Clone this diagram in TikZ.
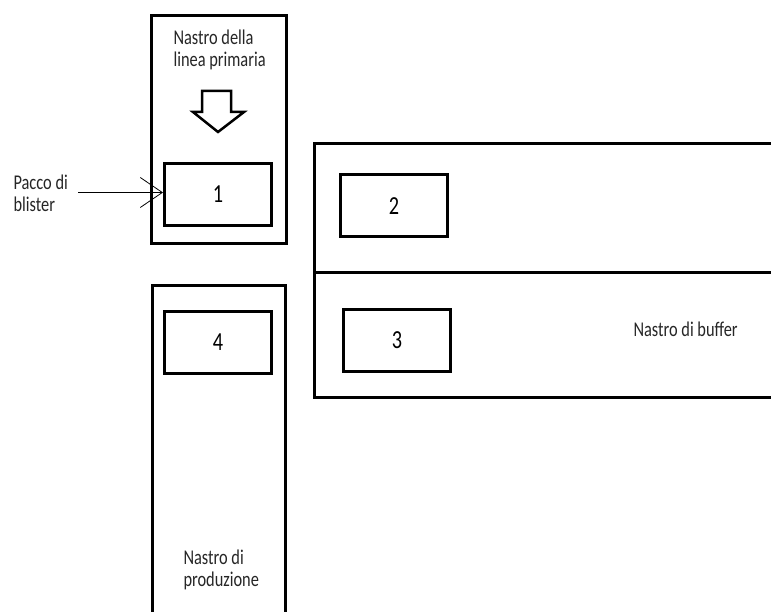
\documentclass[tikz,border=0pt]{standalone}
\usepackage{fontspec}
\setmainfont{Carlito}
\usepackage{graphicx}
\usetikzlibrary{arrows.meta}

% squeezed text, as in the sketch
\newcommand{\squash}[1]{\scalebox{0.78}[1]{#1}}

\tikzset{
    numbox/.style={draw, line width=3pt, minimum width=107pt, minimum height=62pt, inner sep=0pt, font=\fontsize{26}{26}\selectfont},
    beltlabel/.style={inner sep=0pt, align=left, anchor=base west, text=black!85, font=\fontsize{21}{22}\selectfont}
}

\begin{document}
\begin{tikzpicture}[x=1pt, y=-1pt, line width=3pt]
    \useasboundingbox (0, 0) rectangle (771, 612);
    \clip (0, 0) rectangle (771, 612);

    % draw belts
    \draw (151.5, 15.5) rectangle (286.5, 243.5);
    \draw (314.5, 143.5) rectangle (790, 397.5);
    \draw (314.5, 273) -- (790, 273);
    \draw (152.5, 630) -- (152.5, 285.5) -- (285.5, 285.5) -- (285.5, 630);

    % draw hollow arrow
    \draw[line width=2.5pt, line join=miter] (202, 91) -- (231, 91) -- (231, 112) -- (244, 112) -- (218, 132) -- (193, 112) -- (202, 112) -- cycle;

    % draw stations
    \node[numbox] (b1) at (218, 194.5) {\squash{1}};
    \node[numbox] (b2) at (394, 206) {\squash{2}};
    \node[numbox] (b3) at (397, 340.5) {\squash{3}};
    \node[numbox] (b4) at (218, 342.5) {\squash{4}};

    % draw labels (anchored at the last line)
    \node[beltlabel] (primaria) at (172, 67) {\squash{Nastro della}\\\squash{linea primaria}};
    \node[beltlabel] (pacco) at (12, 212) {\squash{Pacco di}\\\squash{blister}};
    \node[beltlabel] (produzione) at (182, 586) {\squash{Nastro di}\\\squash{produzione}};
    \node[beltlabel] (buffer) at (632, 337) {\squash{Nastro di buffer}};

    % draw incoming pack arrow
    \coordinate (paccostart) at (78, 192.5);
    \draw[line width=0.8pt, -{Straight Barb[length=22pt, width=30pt, line width=0.8pt]}] (paccostart) -- (b1.west |- paccostart);

\end{tikzpicture}
\end{document}
